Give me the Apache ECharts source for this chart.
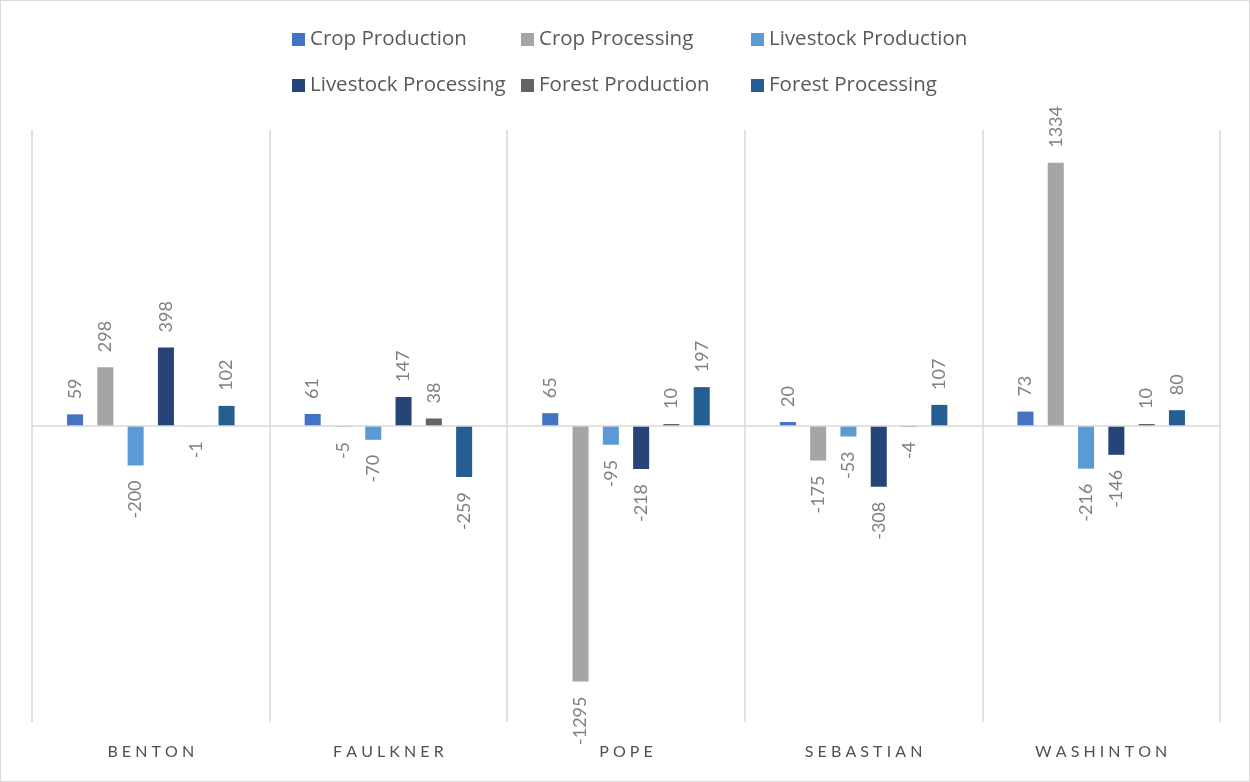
<!DOCTYPE html>
<html lang="en">
<head>
    <meta charset="UTF-8">
    <title>County impacts</title>
    <style>
        body{ margin: 0; }
        #main{
            width: 1250px;
            height: 782px;
            box-sizing: border-box;
            border: 1px solid #d9d9d9;
        }
    </style>
</head>
<body>
<div id="main"></div>
<script src="https://cdn.jsdelivr.net/npm/echarts@6/dist/echarts.min.js"></script>
<script>
    // counties
    const counties = ['BENTON', 'FAULKNER', 'POPE', 'SEBASTIAN', 'WASHINTON'];

    // values, one array per series
    const cropProduction = [59, 61, 65, 20, 73];
    const cropProcessing = [298, -5, -1295, -175, 1334];
    const livestockProduction = [-200, -70, -95, -53, -216];
    const livestockProcessing = [398, 147, -218, -308, -146];
    const forestProduction = [-1, 38, 10, -4, 10];
    const forestProcessing = [102, -259, 197, 107, 80];

    const seriesNames = ['Crop Production', 'Crop Processing', 'Livestock Production',
        'Livestock Processing', 'Forest Production', 'Forest Processing'];
    const seriesValues = [cropProduction, cropProcessing, livestockProduction,
        livestockProcessing, forestProduction, forestProcessing];
    const colors = ['#4472c4', '#a5a5a5', '#5b9bd5', '#264478', '#636363', '#255e91'];

    const font = 'Lato, "Open Sans", sans-serif';

    const myChart = echarts.init(document.getElementById('main'));

    // labels go above positive bars, below negative ones
    function toItems(vals) {
        return vals.map(v => ({
            value: v,
            label: v < 0
                ? {position: 'bottom', align: 'right'}
                : {position: 'top', align: 'left'}
        }));
    }

    const series = seriesNames.map((name, i) => ({
        name: name,
        type: 'bar',
        data: toItems(seriesValues[i]),
        itemStyle: {color: colors[i]},
        barGap: '89%',
        barCategoryGap: '29.5%',
        label: {
            show: true,
            rotate: 90,
            distance: 15,
            verticalAlign: 'middle',
            color: '#7f7f7f',
            fontFamily: font,
            fontSize: 18
        }
    }));

    // zero line across the plot
    series[0].markLine = {
        silent: true,
        symbol: 'none',
        label: {show: false},
        lineStyle: {color: '#d9d9d9', type: 'solid', width: 1.5},
        data: [{yAxis: 0}]
    };

    const legendText = {color: '#595959', fontFamily: '"Open Sans", sans-serif', fontSize: 20.5, lineHeight: 20};
    const legendCol = (left, names) => ({
        orient: 'vertical',
        left: left,
        top: 28,
        padding: 0,
        itemGap: 25,
        itemWidth: 13,
        itemHeight: 13,
        icon: 'rect',
        textStyle: legendText,
        data: names
    });

    myChart.setOption({
        color: colors,
        animation: false,
        legend: [
            legendCol(291, ['Crop Production', 'Livestock Processing']),
            legendCol(520, ['Crop Processing', 'Forest Production']),
            legendCol(750, ['Livestock Production', 'Forest Processing'])
        ],
        grid: {left: 31, right: 29, top: 129, bottom: 59},
        xAxis: {
            type: 'category',
            data: counties,
            axisLine: {show: false},
            axisTick: {show: false},
            splitLine: {show: true, interval: 0, lineStyle: {color: '#d9d9d9', width: 1.5}},
            axisLabel: {
                color: '#505050',
                fontFamily: font,
                fontSize: 16,
                margin: 22,
                formatter: v => v.split('').join(' ')
            }
        },
        yAxis: {
            type: 'value',
            min: -1500,
            max: 1500,
            interval: 500,
            show: false,
            splitLine: {show: false}
        },
        series: series
    });
</script>
</body>
</html>
